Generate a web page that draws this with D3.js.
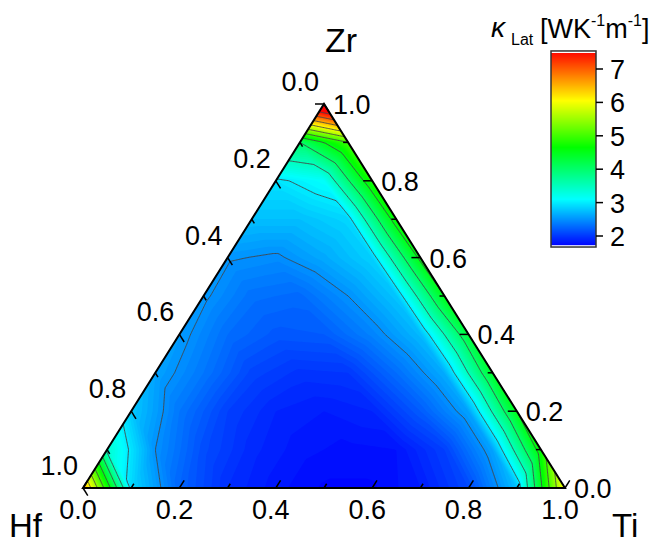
<!DOCTYPE html>
<html lang="en">
<head>
<meta charset="utf-8">
<style>
  body { margin: 0; background: #fff; }
  svg text { font-family: "Liberation Sans", Arial, sans-serif; fill: #000; }
  .ticks line { stroke: #000; stroke-width: 1.5px; }
  .isolines path { fill: none; stroke: #454545; stroke-width: 0.9px; }
</style>
<script src="https://cdn.jsdelivr.net/npm/d3@7"></script>
</head>
<body>
<svg width="655" height="543"></svg>
<script>
// kappa_Lat read on a 0.1 composition grid: one row per Zr fraction,
// each row runs from Ti = 0 (Hf side) up to Ti = 1 - Zr (Zr-Ti edge)
var zr00 = [6.6, 2.9, 2.25, 1.95, 1.82, 1.74, 1.74, 1.85, 2.1, 2.75, 6.1];
var zr01 = [3.4, 2.5, 2.12, 1.92, 1.82, 1.78, 1.8, 2.05, 2.6, 4.7];
var zr02 = [2.8, 2.35, 2.05, 1.9, 1.85, 1.9, 2.2, 2.6, 4.5];
var zr03 = [2.6, 2.35, 2.08, 1.98, 2.0, 2.3, 2.65, 4.4];
var zr04 = [2.56, 2.3, 2.18, 2.2, 2.42, 2.72, 4.3];
var zr05 = [2.53, 2.32, 2.28, 2.5, 2.78, 4.5];
var zr06 = [2.52, 2.47, 2.63, 2.85, 4.6];
var zr07 = [2.75, 2.75, 2.88, 4.7];
var zr08 = [2.95, 3.13, 4.8];
var zr09 = [4.0, 5.0];
var zr10 = [8.4];
var kappaRows = [zr00, zr01, zr02, zr03, zr04, zr05, zr06, zr07, zr08, zr09, zr10];

var axisTicks = [0, 0.1, 0.2, 0.3, 0.4, 0.5, 0.6, 0.7, 0.8, 0.9, 1.0];
var axisLabels = ["0.0", "0.2", "0.4", "0.6", "0.8", "1.0"];
var barTicks = [2, 3, 4, 5, 6, 7];
var colorStops = [1.7, 3.1, 4.65, 6.05, 7.55];
var colorNames = ["#0000ff", "#00ffff", "#00ff00", "#ffff00", "#ff0000"];
var lineLevels = [2.5, 3.0, 3.5, 4.0, 4.5, 5.0, 5.5, 6.0, 6.5, 7.0, 7.5];
var fillLevels = d3.range(34, 153).map(function(k) { return k / 20; });

var svg = d3.select("svg");
var color = d3.scaleLinear().domain(colorStops).range(colorNames).clamp(true);

// ternary frame: x from Ti (plus half of Zr), y from Zr
var xBase = d3.scaleLinear().domain([0, 1]).range([83, 565]);
var yZr = d3.scaleLinear().domain([0, 1]).range([488, 104]);
function proj(ti, zr) { return [xBase(ti + zr / 2), yZr(zr)]; }

var vHf = proj(0, 0), vTi = proj(1, 0), vZr = proj(0, 1);
var triPoints = [vHf, vTi, vZr].map(function(p) { return p.join(","); }).join(" ");

function kappaAt(ti, zr) {
  var n = kappaRows.length - 1;
  var a = Math.max(0, Math.min(n, ti * n)), b = Math.max(0, Math.min(n, zr * n));
  if (a + b > n) { var s = n / (a + b); a *= s; b *= s; }
  var i = Math.min(Math.floor(b), n - 1);
  var j = Math.min(Math.floor(a), n - 1 - i);
  var fa = a - j, fb = b - i;
  function V(jj, ii) { return kappaRows[ii][jj]; }
  if (fa + fb <= 1 || i + j >= n - 1) {
    return V(j, i) + fa * (V(j + 1, i) - V(j, i)) + fb * (V(j, i + 1) - V(j, i));
  }
  return V(j + 1, i + 1) + (1 - fa) * (V(j, i + 1) - V(j + 1, i + 1)) + (1 - fb) * (V(j + 1, i) - V(j + 1, i + 1));
}

// raster the field over the triangle's box
var cell = 1.5, gx0 = 76, gy0 = 96;
var nx = Math.ceil((574 - gx0) / cell), ny = Math.ceil((496 - gy0) / cell);
var grid = new Float64Array(nx * ny);
for (var r = 0; r < ny; r++) {
  for (var c = 0; c < nx; c++) {
    var px = gx0 + (c + 0.5) * cell, py = gy0 + (r + 0.5) * cell;
    var zr = yZr.invert(py), ti = xBase.invert(px) - zr / 2;
    grid[r * nx + c] = kappaAt(ti, zr);
  }
}

var toPx = d3.geoTransform({
  point: function(x, y) { this.stream.point(gx0 + x * cell, gy0 + y * cell); }
});
var path = d3.geoPath(toPx);
var contours = d3.contours().size([nx, ny]);

svg.append("clipPath").attr("id", "tri")
  .append("polygon").attr("points", triPoints);

var plot = svg.append("g").attr("clip-path", "url(#tri)");
plot.append("polygon")
  .attr("points", triPoints)
  .attr("fill", color(1.7));

plot.append("g")
  .selectAll("path")
  .data(contours.thresholds(fillLevels)(grid))
  .enter().append("path")
    .attr("d", path)
    .attr("fill", function(d) { return color(d.value + 0.025); });

plot.append("g")
    .attr("class", "isolines")
  .selectAll("path")
  .data(contours.thresholds(lineLevels)(grid))
  .enter().append("path")
    .attr("d", path);

svg.append("polygon")
  .attr("points", triPoints)
  .attr("fill", "none")
  .attr("stroke", "#000")
  .attr("stroke-width", 2);

// ticks: each axis ticks along its constant-fraction lines
function unit(p, q) {
  var dx = q[0] - p[0], dy = q[1] - p[1], l = Math.sqrt(dx * dx + dy * dy);
  return [dx / l, dy / l];
}
var axes = [
  { pos: function(t) { return proj(t, 0); }, dir: unit(vHf, vZr),
    label: function(p) { return [p[0] - 5, 519]; }, anchor: "middle" },
  { pos: function(t) { return proj(1 - t, t); }, dir: [-1, 0],
    label: function(p) { return [p[0] + 9, p[1] + 10]; }, anchor: "start" },
  { pos: function(t) { return proj(0, 1 - t); }, dir: unit(vZr, vTi),
    label: function(p) { return [p[0] - 5, p[1] - 13]; }, anchor: "end" }
];

var tickG = svg.append("g").attr("class", "ticks");
axes.forEach(function(ax) {
  axisTicks.forEach(function(t, k) {
    var p = ax.pos(t), len = k % 2 === 0 ? 9 : 5;
    tickG.append("line")
      .attr("x1", p[0]).attr("y1", p[1])
      .attr("x2", p[0] + ax.dir[0] * len).attr("y2", p[1] + ax.dir[1] * len);
  });
  axisLabels.forEach(function(lab, k) {
    var q = ax.label(ax.pos(k / 5));
    svg.append("text")
      .attr("x", q[0]).attr("y", q[1])
      .attr("text-anchor", ax.anchor)
      .attr("font-size", 27)
      .text(lab);
  });
});

svg.append("text").attr("x", 325).attr("y", 52).attr("font-size", 34).text("Zr");
svg.append("text").attr("x", 9).attr("y", 537).attr("font-size", 33).text("Hf");
svg.append("text").attr("x", 612).attr("y", 537).attr("font-size", 33).text("Ti");

// colour bar
var yBar = d3.scaleLinear().domain([2, 7]).range([236, 69]);
var barX = 551, barW = 45, barTop = yBar(7.54), barBot = yBar(1.67);
var bar = svg.append("g");
bar.append("rect").attr("x", barX).attr("y", barTop).attr("width", barW).attr("height", barBot - barTop)
  .attr("fill", "#fff");
bar.selectAll("rect.band")
  .data(d3.range(Math.ceil(barTop + 2), Math.floor(barBot - 2)))
  .enter().append("rect")
    .attr("class", "band")
    .attr("x", barX).attr("y", function(y) { return y; })
    .attr("width", barW).attr("height", 1.2)
    .attr("fill", function(y) { return color(yBar.invert(y + 0.5)); });
bar.append("rect").attr("x", barX).attr("y", barTop).attr("width", barW).attr("height", barBot - barTop)
  .attr("fill", "none").attr("stroke", "#333").attr("stroke-width", 1.5);

barTicks.forEach(function(v) {
  bar.append("line")
    .attr("x1", barX + barW).attr("x2", barX + barW + 7)
    .attr("y1", yBar(v)).attr("y2", yBar(v))
    .attr("stroke", "#000").attr("stroke-width", 1.5);
  bar.append("text")
    .attr("x", barX + barW + 14).attr("y", yBar(v) + 10)
    .attr("font-size", 27)
    .text(v);
});

svg.append("text").attr("x", 491).attr("y", 37).attr("font-size", 28)
  .attr("font-style", "italic").text("\u03ba");
svg.append("text").attr("x", 511).attr("y", 45).attr("font-size", 16).text("Lat");
var unitText = svg.append("text").attr("x", 540).attr("y", 38).attr("font-size", 27);
unitText.append("tspan").text("[WK");
unitText.append("tspan").attr("font-size", 16).attr("dy", -12).text("-1");
unitText.append("tspan").attr("dy", 12).text("m");
unitText.append("tspan").attr("font-size", 16).attr("dy", -12).text("-1");
unitText.append("tspan").attr("dy", 12).text("]");
</script>
</body>
</html>
